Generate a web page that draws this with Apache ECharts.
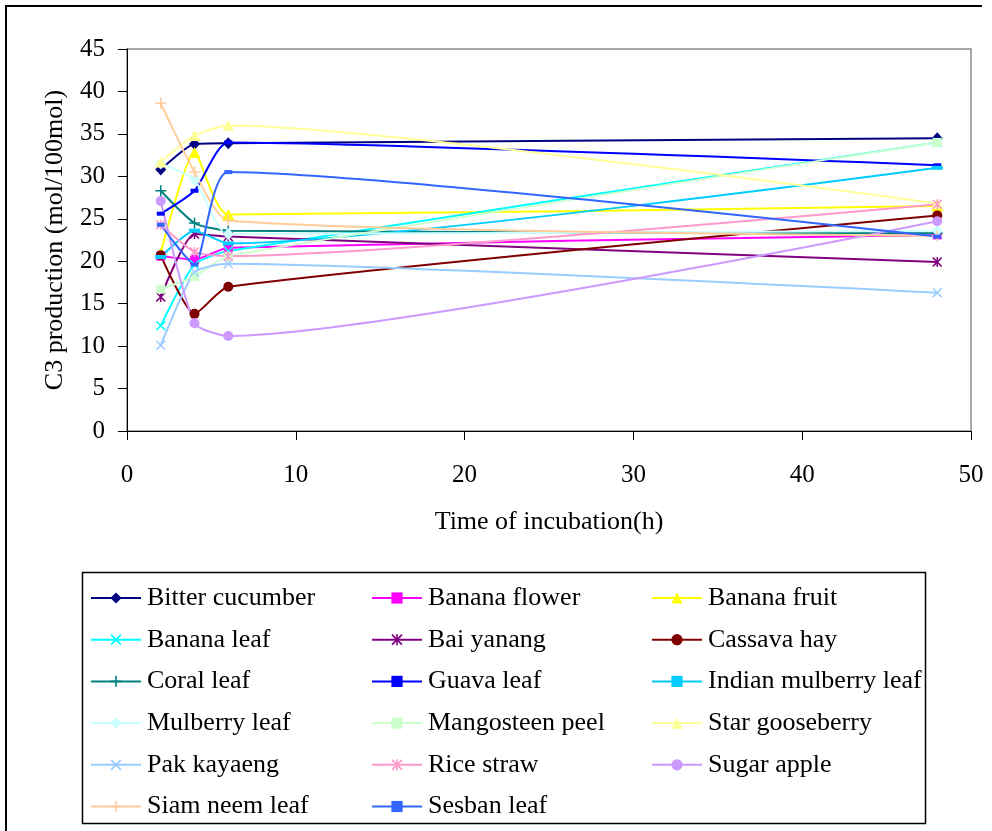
<!DOCTYPE html>
<html>
<head>
<meta charset="utf-8">
<script src="https://cdn.jsdelivr.net/npm/echarts@6/dist/echarts.min.js"></script>
<style>
html,body{margin:0;padding:0;background:#fff;}
#chart{width:992px;height:831px;}
</style>
</head>
<body>
<div id="chart"></div>
<script>
// ---- data ----
const hours = [2, 4, 6, 48];
const seriesNames = [
  "Bitter cucumber", "Banana flower", "Banana fruit",
  "Banana leaf", "Bai yanang", "Cassava hay",
  "Coral leaf", "Guava leaf", "Indian mulberry leaf",
  "Mulberry leaf", "Mangosteen peel", "Star gooseberry",
  "Pak kayaeng", "Rice straw", "Sugar apple",
  "Siam neem leaf", "Sesban leaf"
];
const bitterCucumber   = [30.8, 33.8, 33.9, 34.5];
const bananaFlower     = [20.6, 20.2, 21.6, 23.1];
const bananaFruit      = [21.0, 32.8, 25.5, 26.5];
const bananaLeaf       = [12.4, 19.6, 21.2, 34.0];
const baiYanang        = [15.8, 23.2, 22.9, 19.9];
const cassavaHay       = [20.7, 13.8, 17.0, 25.4];
const coralLeaf        = [28.3, 24.5, 23.6, 23.3];
const guavaLeaf        = [25.6, 28.3, 34.0, 31.3];
const indianMulberry   = [20.5, 23.6, 22.1, 31.0];
const mulberryLeaf     = [31.5, 29.6, 23.2, 23.6];
const mangosteenPeel   = [16.7, 18.2, 20.6, 34.0];
const starGooseberry   = [31.7, 34.8, 36.0, 26.8];
const pakKayaeng       = [10.1, 18.7, 19.7, 16.3];
const riceStraw        = [24.3, 21.1, 20.6, 26.7];
const sugarApple       = [27.1, 12.7, 11.2, 24.7];
const siamNeemLeaf     = [38.6, 30.5, 24.8, 23.0];
const sesbanLeaf       = [24.3, 19.6, 30.5, 22.9];
const yTicks = [0, 5, 10, 15, 20, 25, 30, 35, 40, 45];
const xTicks = [0, 10, 20, 30, 40, 50];

const allValues = [bitterCucumber, bananaFlower, bananaFruit, bananaLeaf, baiYanang,
  cassavaHay, coralLeaf, guavaLeaf, indianMulberry, mulberryLeaf, mangosteenPeel,
  starGooseberry, pakKayaeng, riceStraw, sugarApple, siamNeemLeaf, sesbanLeaf];

// ---- styles ----
const SYM_X = 'path://M0,1.1L1.1,0L5,3.9L8.9,0L10,1.1L6.1,5L10,8.9L8.9,10L5,6.1L1.1,10L0,8.9L3.9,5Z';
const SYM_STAR = 'path://M0,1.1L1.1,0L5,3.9L8.9,0L10,1.1L6.1,5L10,8.9L8.9,10L5,6.1L1.1,10L0,8.9L3.9,5Z M4.3,0H5.7V10H4.3Z';
const SYM_PLUS = 'path://M4.3,0H5.7V4.3H10V5.7H5.7V10H4.3V5.7H0V4.3H4.3Z';
const styles = [
  {c:'#000080', s:'diamond', z:[11,12]},
  {c:'#FF00FF', s:'rect', z:[9,9]},
  {c:'#FFFF00', s:'triangle', z:[12,11]},
  {c:'#00FFFF', s:SYM_X, z:[10,10]},
  {c:'#800080', s:SYM_STAR, z:[10,10]},
  {c:'#800000', s:'circle', z:[10,10]},
  {c:'#008080', s:SYM_PLUS, z:[11,11]},
  {c:'#0000FF', s:'rect', z:[8,4]},
  {c:'#00CCFF', s:'rect', z:[11,4]},
  {c:'#CCFFFF', s:'diamond', z:[11,12]},
  {c:'#CCFFCC', s:'rect', z:[9,9]},
  {c:'#FFFF99', s:'triangle', z:[12,11]},
  {c:'#99CCFF', s:SYM_X, z:[10,10]},
  {c:'#FF99CC', s:SYM_STAR, z:[10,10]},
  {c:'#CC99FF', s:'circle', z:[10,10]},
  {c:'#FFCC99', s:SYM_PLUS, z:[11,11]},
  {c:'#3366FF', s:'rect', z:[8,4]}
];

const FONT = '"Liberation Serif", "Times New Roman", serif';

const series = seriesNames.map((name, i) => ({
  name: name,
  type: 'line',
  smooth: 0.2,
  data: hours.map((h, k) => [h, allValues[i][k]]),
  symbol: styles[i].s,
  symbolSize: styles[i].z,
  showAllSymbol: true,
  lineStyle: {color: styles[i].c, width: 2},
  itemStyle: {color: styles[i].c, opacity: 1},
  emphasis: {disabled: true},
  animation: false
}));

const colNames = [[], [], []];
seriesNames.forEach((n, i) => colNames[i % 3].push(n));
const colLeft = [90, 371, 651];
const legends = colNames.map((names, j) => ({
  orient: 'vertical',
  left: colLeft[j],
  top: 585,
  padding: 0,
  itemWidth: 50,
  itemHeight: 14,
  itemGap: 15.7,
  data: names,
  selectedMode: false,
  textStyle: {fontFamily: FONT, fontSize: 26, color: '#000', lineHeight: 26, padding: [0, 0, 0, 1]}
}));

const chart = echarts.init(document.getElementById('chart'), null, {renderer: 'canvas'});
chart.setOption({
  animation: false,
  backgroundColor: '#fff',
  grid: {
    left: 127, right: 21, top: 49, bottom: 400,
    show: true, borderColor: '#8c8c8c', borderWidth: 1.5, backgroundColor: 'transparent'
  },
  xAxis: {
    type: 'value', min: xTicks[0], max: xTicks[xTicks.length - 1], interval: 10,
    name: 'Time of incubation(h)', nameLocation: 'middle', nameGap: 78,
    nameTextStyle: {fontFamily: FONT, fontSize: 26, color: '#000'},
    axisLine: {show: true, lineStyle: {color: '#000', width: 1}},
    axisTick: {show: true, inside: false, length: 9, lineStyle: {color: '#000'}},
    axisLabel: {fontFamily: FONT, fontSize: 25, color: '#000', margin: 32},
    splitLine: {show: false}
  },
  yAxis: {
    type: 'value', min: yTicks[0], max: yTicks[yTicks.length - 1], interval: 5,
    name: 'C3 production (mol/100mol)', nameLocation: 'middle', nameGap: 59,
    nameTextStyle: {fontFamily: FONT, fontSize: 26, color: '#000'},
    axisLine: {show: true, lineStyle: {color: '#000', width: 1}},
    axisTick: {show: true, inside: false, length: 9, lineStyle: {color: '#000'}},
    axisLabel: {fontFamily: FONT, fontSize: 25, color: '#000', margin: 22},
    splitLine: {show: false}
  },
  legend: legends,
  graphic: [
    {type: 'line', shape: {x1: 5, y1: 6, x2: 982, y2: 6}, style: {stroke: '#000', lineWidth: 2}, silent: true},
    {type: 'line', shape: {x1: 6, y1: 5, x2: 6, y2: 831}, style: {stroke: '#000', lineWidth: 2}, silent: true},
    {type: 'rect', shape: {x: 82.5, y: 572.5, width: 843, height: 251}, style: {fill: 'none', stroke: '#000', lineWidth: 1.5}, silent: true, z: -1}
  ],
  series: series
});
</script>
</body>
</html>
